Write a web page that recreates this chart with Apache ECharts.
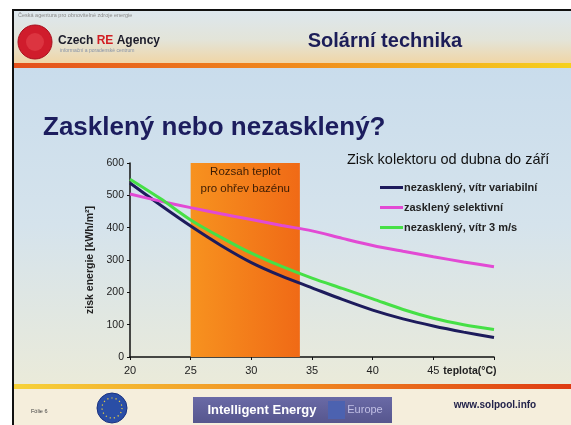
<!DOCTYPE html>
<html>
<head>
<meta charset="utf-8">
<script src="https://cdn.jsdelivr.net/npm/echarts@6/dist/echarts.min.js"></script>
<style>
  html, body { margin: 0; padding: 0; background: #fff; }
  #chart { width: 571px; height: 425px; }
</style>
</head>
<body>
<div id="chart"></div>
<script>
// temperatures (°C) and collector gain (kWh/m2)
var temps = [20, 22.5, 25, 27.5, 30, 32.5, 35, 37.5, 40, 42.5, 45, 47.5, 50];
var gainUnglazedVar = [538, 470, 405, 345, 292, 250, 214, 178, 145, 118, 96, 77, 60];
var gainGlazedSel = [504, 482, 462, 443, 425, 407, 390, 367, 345, 327, 310, 294, 279];
var gainUnglazed3 = [550, 490, 424, 370, 321, 280, 244, 212, 180, 147, 120, 100, 85];

var seriesNames = ['nezasklený, vítr variabilní', 'zasklený selektivní', 'nezasklený, vítr 3 m/s'];
var seriesColors = ['#1d1b5c', '#e24ad4', '#46e046'];
var poolRange = [25, 34];

var font = '"Liberation Sans", Arial, sans-serif';

function pairs(xs, ys) {
    return xs.map(function (x, i) { return [x, ys[i]]; });
}

var chart = echarts.init(document.getElementById('chart'));

var slideBg = [
    // frame + body
    { type: 'rect', z: -20, shape: { x: 13, y: 10, width: 570, height: 430 },
      style: { fill: { type: 'linear', x: 0, y: 0, x2: 0, y2: 1, colorStops: [
          { offset: 0, color: '#c5daec' }, { offset: 0.5, color: '#d5e3ec' }, { offset: 0.9, color: '#ecebd8' }, { offset: 1, color: '#f2ecd6' }] },
        stroke: '#111', lineWidth: 2 } },
    // header
    { type: 'rect', z: -19, shape: { x: 14, y: 11, width: 560, height: 53 },
      style: { fill: { type: 'linear', x: 0, y: 0, x2: 0, y2: 1, colorStops: [
          { offset: 0, color: '#dde7ee' }, { offset: 0.55, color: '#e3e4d8' }, { offset: 1, color: '#f1d5a4' }] } } },
    { type: 'rect', z: -18, shape: { x: 14, y: 63, width: 560, height: 5 },
      style: { fill: { type: 'linear', x: 0, y: 0, x2: 1, y2: 0, colorStops: [
          { offset: 0, color: '#e4501c' }, { offset: 0.5, color: '#f08a1c' }, { offset: 1, color: '#f6d21e' }] } } },
    // footer
    { type: 'rect', z: -19, shape: { x: 14, y: 389, width: 560, height: 40 }, style: { fill: '#f5eedc' } },
    { type: 'rect', z: -18, shape: { x: 14, y: 384, width: 560, height: 5 },
      style: { fill: { type: 'linear', x: 0, y: 0, x2: 1, y2: 0, colorStops: [
          { offset: 0, color: '#f6d23a' }, { offset: 0.5, color: '#f08a22' }, { offset: 1, color: '#de3a12' }] } } }
];

var slideDeco = [
    { type: 'text', z: 10, x: 18, y: 15,
      style: { text: 'Česká agentura pro obnovitelné zdroje energie', fill: '#8a8a8a', fontSize: 5.5, fontFamily: font, verticalAlign: 'middle' } },
    { type: 'circle', z: 10, shape: { cx: 35, cy: 42, r: 17 }, style: { fill: '#d01c2c', stroke: '#a8101e', lineWidth: 1 } },
    { type: 'circle', z: 10, shape: { cx: 35, cy: 42, r: 9 }, style: { fill: '#dc3440' } },
    { type: 'text', z: 10, x: 58, y: 41,
      style: { text: '{a|Czech }{b|RE}{a| Agency}', verticalAlign: 'middle', fontFamily: font,
        rich: { a: { fontSize: 12, fontWeight: 'bold', fill: '#1c1c2a', fontFamily: font },
                b: { fontSize: 12, fontWeight: 'bold', fill: '#d21e22', fontFamily: font } } } },
    { type: 'text', z: 10, x: 60, y: 51,
      style: { text: 'informační a poradenské centrum', fill: '#8894a8', fontSize: 5, fontFamily: font, verticalAlign: 'middle' } },
    { type: 'text', z: 10, x: 385, y: 41,
      style: { text: 'Solární technika', fill: '#1c1d58', fontSize: 20, fontWeight: 'bold', fontFamily: font,
        align: 'center', textAlign: 'center', verticalAlign: 'middle', textVerticalAlign: 'middle' } },
    { type: 'text', z: 10, x: 43, y: 128,
      style: { text: 'Zasklený nebo nezasklený?', fill: '#1c1d5e', fontSize: 26, fontWeight: 'bold', fontFamily: font,
        verticalAlign: 'middle', textVerticalAlign: 'middle' } },
    // footer
    { type: 'text', z: 10, x: 31, y: 411,
      style: { text: 'Fólie 6', fill: '#444', fontSize: 5.5, fontFamily: font, verticalAlign: 'middle' } },
    { type: 'circle', z: 10, shape: { cx: 112, cy: 408, r: 15 }, style: { fill: '#2a4ea6', stroke: '#1a3280', lineWidth: 1 } },
    { type: 'circle', z: 10, shape: { cx: 112, cy: 408, r: 10 }, style: { fill: 'none', stroke: '#e8d040', lineWidth: 1.2, lineDash: [1.2, 3] } },
    { type: 'rect', z: 10, shape: { x: 193, y: 397, width: 199, height: 26 },
      style: { fill: { type: 'linear', x: 0, y: 0, x2: 0, y2: 1, colorStops: [
          { offset: 0, color: '#6a6aa6' }, { offset: 1, color: '#56568e' }] } } },
    { type: 'rect', z: 11, shape: { x: 328, y: 401, width: 17, height: 18 }, style: { fill: '#4c62b0' } },
    { type: 'text', z: 12, x: 262, y: 410,
      style: { text: 'Intelligent Energy', fill: '#ffffff', fontSize: 13, fontWeight: 'bold', fontFamily: font,
        align: 'center', textAlign: 'center', verticalAlign: 'middle', textVerticalAlign: 'middle' } },
    { type: 'text', z: 12, x: 365, y: 410,
      style: { text: 'Europe', fill: '#c0bfe4', fontSize: 11, fontFamily: font,
        align: 'center', textAlign: 'center', verticalAlign: 'middle', textVerticalAlign: 'middle' } },
    { type: 'text', z: 10, x: 495, y: 405,
      style: { text: 'www.solpool.info', fill: '#23234a', fontSize: 10, fontWeight: 'bold', fontFamily: font,
        align: 'center', textAlign: 'center', verticalAlign: 'middle', textVerticalAlign: 'middle' } }
];

var lineSeries = seriesNames.map(function (name, i) {
    var ys = [gainUnglazedVar, gainGlazedSel, gainUnglazed3][i];
    return {
        name: name,
        type: 'line',
        z: 3,
        smooth: 0.3,
        showSymbol: false,
        data: pairs(temps, ys),
        lineStyle: { width: 3, color: seriesColors[i] },
        itemStyle: { color: seriesColors[i] }
    };
});

// orange band: pool heating temperature range
var bandSeries = {
    type: 'line',
    z: 1,
    data: [],
    markArea: {
        silent: true,
        itemStyle: {
            color: { type: 'linear', x: 0, y: 0, x2: 1, y2: 0, colorStops: [
                { offset: 0, color: '#f7921f' }, { offset: 1, color: '#f06a16' }] }
        },
        label: {
            show: true,
            position: 'insideTop',
            distance: 0,
            formatter: 'Rozsah teplot\npro ohřev bazénu',
            color: '#3c1c04',
            fontSize: 11.5,
            lineHeight: 17,
            fontFamily: font
        },
        data: [[{ xAxis: poolRange[0] }, { xAxis: poolRange[1] }]]
    }
};

var options = {
    animation: false,
    backgroundColor: '#ffffff',
    textStyle: { fontFamily: font },
    graphic: { elements: slideBg.concat(slideDeco) },
    title: {
        text: 'Zisk kolektoru od dubna do září',
        left: 347,
        top: 152,
        padding: 0,
        textStyle: { fontSize: 14.5, fontWeight: 'normal', color: '#111', fontFamily: font }
    },
    legend: {
        data: seriesNames,
        orient: 'vertical',
        left: 380,
        top: 182,
        padding: 0,
        icon: 'rect',
        itemWidth: 23,
        itemHeight: 3,
        itemGap: 9,
        textStyle: { fontSize: 11, fontWeight: 'bold', color: '#222', fontFamily: font, padding: [0, 0, 0, -4] }
    },
    grid: { left: 130, right: 77, top: 163, bottom: 68 },
    xAxis: {
        type: 'value',
        min: 20,
        max: 50,
        interval: 5,
        name: 'teplota(°C)',
        nameLocation: 'end',
        nameGap: 2,
        nameTextStyle: { align: 'right', verticalAlign: 'top', padding: [9, 0, 0, 0], fontSize: 10.5, fontWeight: 'bold', color: '#222' },
        axisLine: { lineStyle: { color: '#111', width: 1.5 } },
        axisTick: { length: 3, lineStyle: { color: '#111' } },
        axisLabel: {
            color: '#222', fontSize: 11, margin: 8,
            formatter: function (v) { return v === 50 ? '' : v; }
        },
        splitLine: { show: false }
    },
    yAxis: {
        type: 'value',
        min: 0,
        max: 600,
        interval: 100,
        name: 'zisk energie [kWh/m²]',
        nameLocation: 'middle',
        nameGap: 30,
        nameTextStyle: { fontSize: 10.5, fontWeight: 'bold', color: '#222' },
        axisLine: { show: true, lineStyle: { color: '#111', width: 1.5 } },
        axisTick: { show: true, length: 3, lineStyle: { color: '#111' } },
        axisLabel: { color: '#222', fontSize: 10.5, margin: 6 },
        splitLine: { show: false }
    },
    series: [bandSeries].concat(lineSeries)
};

chart.setOption(options);
</script>
</body>
</html>
